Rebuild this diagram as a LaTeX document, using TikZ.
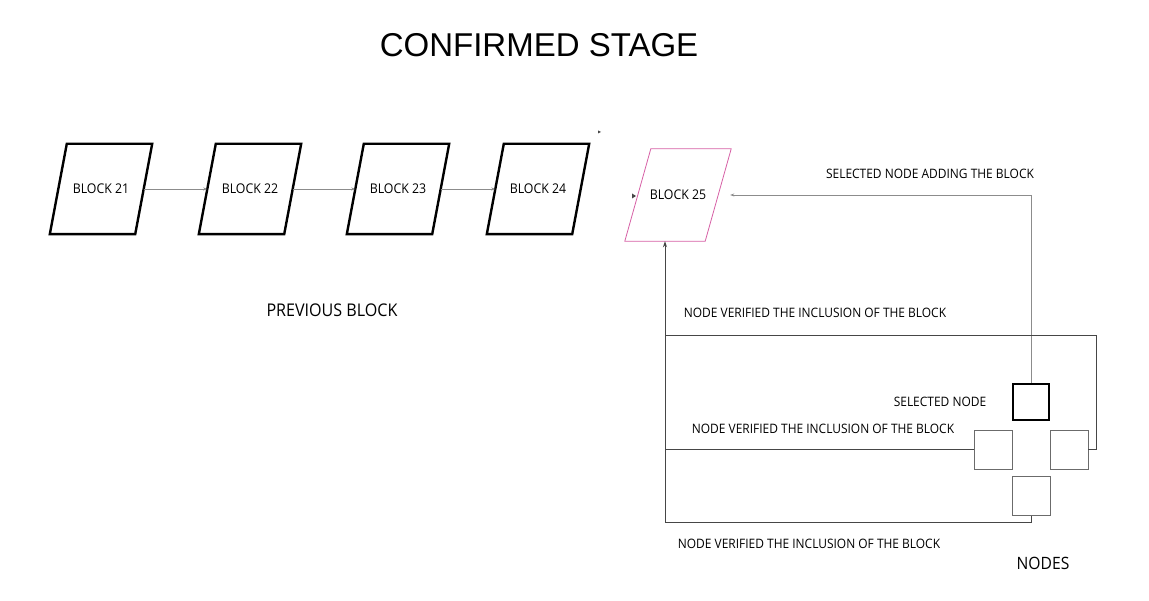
\documentclass[tikz,border=0pt]{standalone}
\usepackage{fontspec}
\setmainfont[FakeStretch=0.92]{Open Sans}
\newfontfamily\titlefont{Liberation Sans}
\usetikzlibrary{arrows.meta}
\definecolor{lnkgray}{RGB}{140,140,140}
\definecolor{darkline}{RGB}{70,70,70}
\definecolor{pinkblk}{RGB}{214,95,165}
\begin{document}
\begin{tikzpicture}[x=1pt,y=-1pt]
	\tikzset{every node/.style={inner sep=0pt}}
	\tikzset{blk/.style={minimum width=85pt, minimum height=90pt, font=\fontsize{13.4}{15}\selectfont}}
	\tikzset{blkline/.style={draw=black, line width=2.4pt, line join=miter}}
	\tikzset{lnk/.style={draw=lnkgray, line width=0.7pt, -{Stealth[length=4pt,width=3pt]}}}
	\tikzset{vlnk/.style={draw=darkline, line width=1pt}}
	\tikzset{peer/.style={draw=darkline!80, line width=0.8pt, minimum width=38pt, minimum height=39pt}}
	\tikzset{lbl/.style={font=\fontsize{13}{15}\selectfont}}
	\useasboundingbox (0,0) rectangle (1149,601);
	% title
	\node (title) at (539,45) {\titlefont\fontsize{33}{36}\selectfont CONFIRMED STAGE};
	% chain of blocks
	\node [blk] (b21) at (101,189) {BLOCK 21};
	\node [blk] (b22) at (250,189) {BLOCK 22};
	\node [blk] (b23) at (398,189) {BLOCK 23};
	\node [blk] (b24) at (538,189) {BLOCK 24};
	\foreach \b in {b21,b22,b23,b24}
		\draw [blkline] ([xshift=-8.5pt]\b.south west) -- ([xshift=-8.5pt]\b.south east)
			-- ([xshift=8.5pt]\b.north east) -- ([xshift=8.5pt]\b.north west) -- cycle;
	\node [blk, minimum width=80pt, minimum height=92pt] (b25) at (678,195) {BLOCK 25};
	\draw [draw=pinkblk, line width=0.8pt] ([xshift=-13pt]b25.south west) -- ([xshift=-13pt]b25.south east)
		-- ([xshift=13pt]b25.north east) -- ([xshift=13pt]b25.north west) -- cycle;
	\draw [lnk] (b21.east) -- (b22.west);
	\draw [lnk] (b22.east) -- (b23.west);
	\draw [lnk] (b23.east) -- (b24.west);
	\node [font=\fontsize{17.5}{20}\selectfont] (prev) at (332,310) {PREVIOUS BLOCK};
	% stray tips
	\fill [darkline] (632,193.5) -- (636,196) -- (632,198.5) -- cycle;
	\fill [darkline] (598,130.5) -- (601,132) -- (598,133.5) -- cycle;
	% nodes
	\node [peer, draw=black, line width=2.6pt, minimum width=36pt, minimum height=36pt] (sel) at (1031,402) {};
	\node [peer] (nl) at (993,450) {};
	\node [peer] (nr) at (1069,450) {};
	\node [peer] (nb) at (1031,496) {};
	% connectors
	\draw [lnk] (sel.north) |- ([xshift=12pt]b25.east);
	\draw [vlnk, -{Stealth[length=6pt,width=4pt]}] (nb.south) -- ++(0,7) -| ([xshift=-13pt]b25.south);
	\draw [vlnk] (nr.east) -- ++(8,0) |- ([xshift=-13pt]b25.south |- 0,336);
	\draw [vlnk] (nl.west) -- ([xshift=-13pt]b25.south |- nl.west);
	% labels
	\node [lbl] (addlbl) at (930,174) {SELECTED NODE ADDING THE BLOCK};
	\node [lbl] (ver1) at (815,313) {NODE VERIFIED THE INCLUSION OF THE BLOCK};
	\node [lbl] (sellbl) at (940,402) {SELECTED NODE};
	\node [lbl] (ver2) at (823,429) {NODE VERIFIED THE INCLUSION OF THE BLOCK};
	\node [lbl] (ver3) at (809,544) {NODE VERIFIED THE INCLUSION OF THE BLOCK};
	\node [font=\fontsize{17}{19}\selectfont] (nodeslbl) at (1043,563) {NODES};
\end{tikzpicture}
\end{document}
